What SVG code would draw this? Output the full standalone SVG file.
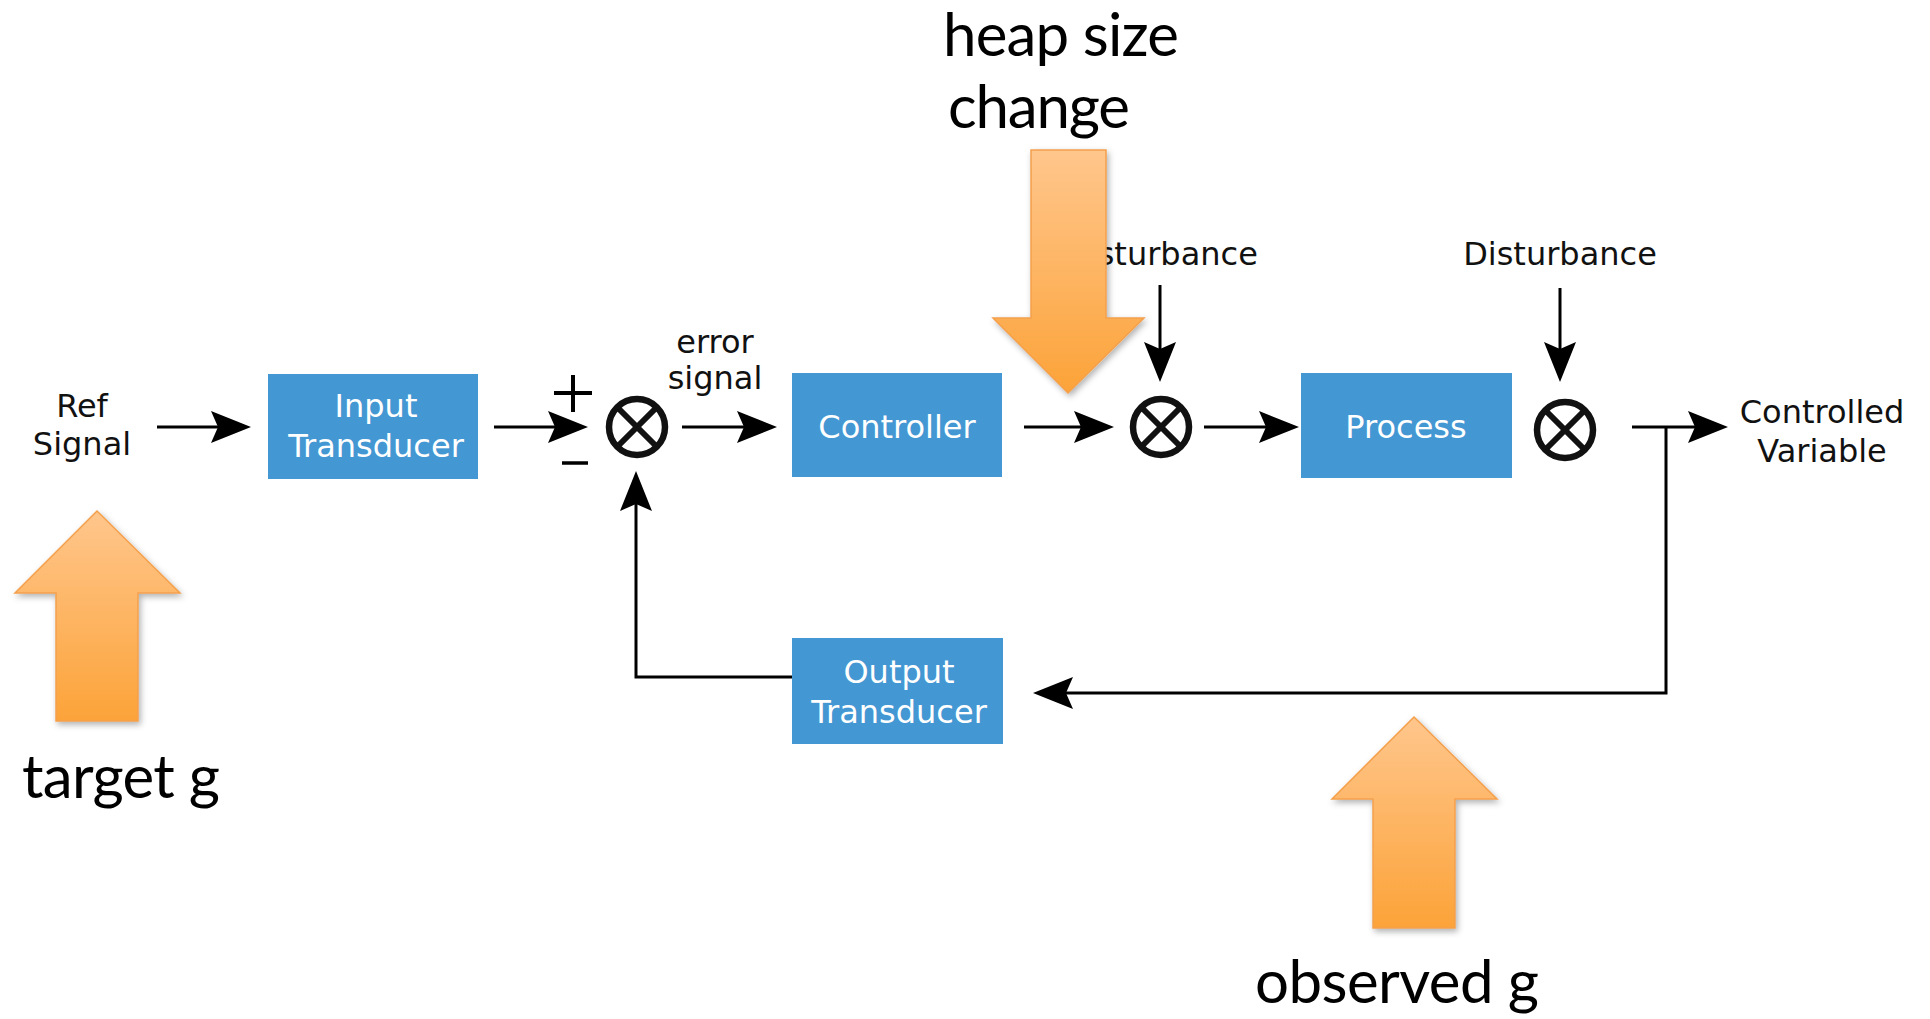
<svg xmlns="http://www.w3.org/2000/svg" width="1930" height="1019" viewBox="0 0 1930 1019">
<style>
.box{fill:#4397D3;}
.bt{font-family:"DejaVu Sans",sans-serif;font-size:32px;fill:#fff;text-anchor:middle;}
.lt{font-family:"DejaVu Sans",sans-serif;font-size:32px;fill:#111;text-anchor:middle;}
.ct{font-family:Lato,"Open Sans",sans-serif;font-size:60px;fill:#000;}
.wire{fill:none;stroke:#000;stroke-width:3;}
.junc circle{fill:#fff;stroke:#111;stroke-width:6.5;}
.junc line{stroke:#111;stroke-width:6;}
.big{fill:url(#og);stroke:#F4A04C;stroke-width:1.5;filter:url(#sh);}
</style>
<defs>
<marker id="ah" markerUnits="userSpaceOnUse" viewBox="0 0 40 32" refX="34" refY="16" markerWidth="40" markerHeight="32" orient="auto">
<path d="M0,0 L40,16 L0,32 L7,16 Z" fill="#000"/>
</marker>
<linearGradient id="og" x1="0" y1="0" x2="0" y2="1">
<stop offset="0" stop-color="#FFC68C"/>
<stop offset="1" stop-color="#FCA339"/>
</linearGradient>
<filter id="sh" x="-20%" y="-20%" width="140%" height="140%">
<feDropShadow dx="2" dy="3" stdDeviation="3" flood-color="#000" flood-opacity="0.3"/>
</filter>
</defs>

<g id="connectors">
<path class="wire" d="M157,427 H245" marker-end="url(#ah)"/>
<path class="wire" d="M494,427 H582" marker-end="url(#ah)"/>
<path class="wire" d="M682,427 H771" marker-end="url(#ah)"/>
<path class="wire" d="M1024,427 H1108" marker-end="url(#ah)"/>
<path class="wire" d="M1204,427 H1293" marker-end="url(#ah)"/>
<path class="wire" d="M1160,285 V376" marker-end="url(#ah)"/>
<path class="wire" d="M1560,288 V376" marker-end="url(#ah)"/>
<path class="wire" d="M1632,427 H1722" marker-end="url(#ah)"/>
<path class="wire" d="M1666,427 V693 H1039" marker-end="url(#ah)"/>
<path class="wire" d="M792,677 H636 V477" marker-end="url(#ah)"/>
</g>

<g id="ref-signal"><text class="lt" x="82" y="417">Ref</text><text class="lt" x="82" y="455">Signal</text></g>

<g id="input-transducer">
<rect class="box" x="268" y="374" width="210" height="105"/>
<text class="bt" x="376" y="417">Input</text><text class="bt" x="376" y="457">Transducer</text>
</g>

<g id="sign-labels">
<line x1="554" y1="393" x2="592" y2="393" stroke="#000" stroke-width="4"/>
<line x1="573" y1="375" x2="573" y2="412" stroke="#000" stroke-width="4"/>
<line x1="562" y1="463" x2="588" y2="463" stroke="#000" stroke-width="3.5"/>
</g>

<g id="junction1" class="junc"><circle cx="637" cy="427" r="28"/><line x1="617" y1="407" x2="657" y2="447"/><line x1="657" y1="407" x2="617" y2="447"/></g>

<g id="error-signal"><text class="lt" x="715" y="353">error</text><text class="lt" x="715" y="389">signal</text></g>

<g id="controller">
<rect class="box" x="792" y="373" width="210" height="104"/>
<text class="bt" x="897" y="438">Controller</text>
</g>

<g id="disturbance1"><text class="lt" x="1161" y="265">Disturbance</text></g>
<g id="junction2" class="junc"><circle cx="1161" cy="427" r="28"/><line x1="1141" y1="407" x2="1181" y2="447"/><line x1="1181" y1="407" x2="1141" y2="447"/></g>

<g id="process">
<rect class="box" x="1301" y="373" width="211" height="105"/>
<text class="bt" x="1406" y="438">Process</text>
</g>

<g id="disturbance2"><text class="lt" x="1560" y="265">Disturbance</text></g>
<g id="junction3" class="junc"><circle cx="1565" cy="430" r="28"/><line x1="1545" y1="410" x2="1585" y2="450"/><line x1="1585" y1="410" x2="1545" y2="450"/></g>

<g id="controlled-variable"><text class="lt" x="1822" y="423">Controlled</text><text class="lt" x="1822" y="462">Variable</text></g>

<g id="output-transducer">
<rect class="box" x="792" y="638" width="211" height="106"/>
<text class="bt" x="899" y="683">Output</text><text class="bt" x="899" y="723">Transducer</text>
</g>

<g id="heap-size-change">
<polygon class="big" points="1031,150 1106,150 1106,318 1144,318 1068,393 993,318 1031,318"/>
<text class="ct" x="943" y="56" font-size="58" textLength="236">heap size</text>
<text class="ct" x="948" y="128" textLength="182">change</text>
</g>

<g id="target-g">
<polygon class="big" points="97,511 180,593 138,593 138,721 56,721 56,593 15,593"/>
<text class="ct" x="22" y="798" textLength="198">target g</text>
</g>

<g id="observed-g">
<polygon class="big" points="1414,717 1497,799 1455,799 1455,928 1373,928 1373,799 1332,799"/>
<text class="ct" x="1255" y="1003" textLength="284">observed g</text>
</g>
</svg>
